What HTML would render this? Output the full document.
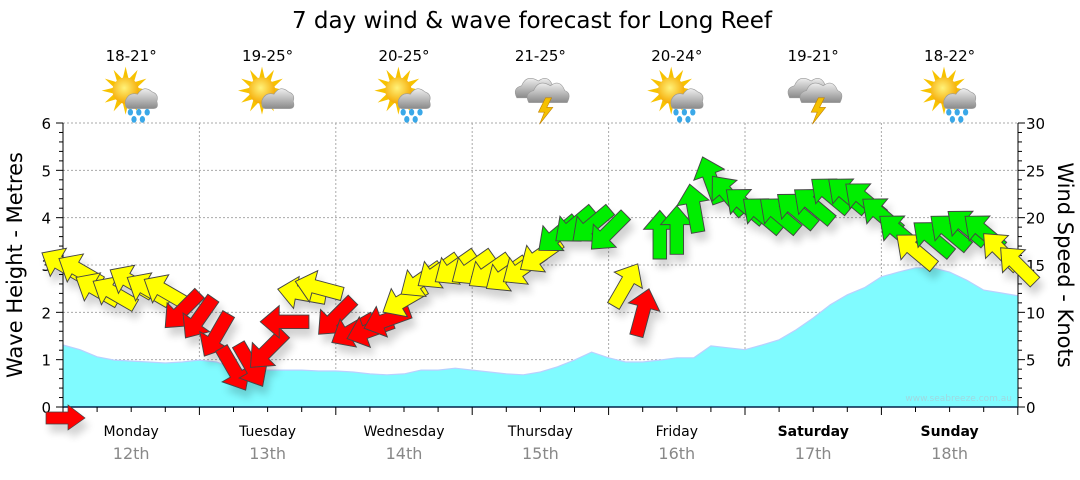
<!DOCTYPE html>
<html><head><meta charset="utf-8"><style>
body{margin:0;background:#fff;}
svg text{font-family:"DejaVu Sans","Liberation Sans",sans-serif;}
</style></head><body>
<svg id="chart" width="1080" height="475" xmlns="http://www.w3.org/2000/svg">
<defs>
<filter id="shadow" x="-50%" y="-50%" width="200%" height="200%"><feGaussianBlur in="SourceAlpha" stdDeviation="4"/><feOffset dx="4" dy="8"/><feComponentTransfer><feFuncA type="linear" slope="0.18"/></feComponentTransfer><feMerge><feMergeNode/><feMergeNode in="SourceGraphic"/></feMerge></filter>
<radialGradient id="sunG" cx="0.45" cy="0.4" r="0.6"><stop offset="0" stop-color="#fff27a"/><stop offset="1" stop-color="#f5a800"/></radialGradient>
<linearGradient id="cloudG" x1="0" y1="0" x2="0" y2="1"><stop offset="0" stop-color="#eeeeee"/><stop offset="1" stop-color="#8a8a8a"/></linearGradient>
</defs>
<text x="532" y="28" font-size="23" text-anchor="middle" fill="#000">7 day wind &amp; wave forecast for Long Reef</text>
<g id="grid"></g>
<g id="wave"></g>
<g id="axes"></g>
<g id="winds" filter="url(#shadow)"></g>
<g id="days"></g>
<g id="icons"></g>
<polygon filter="url(#shadow)" points="46,412 68,412 68,405 85,418 68,430 68,424 46,424" fill="#ff0000" stroke="#444" stroke-width="0.7"/>
<text x="1012" y="401" font-size="9" text-anchor="end" fill="#9fd8e0">www.seabreeze.com.au</text>
<text transform="translate(22,265) rotate(-90)" font-size="21" text-anchor="middle">Wave Height - Metres</text>
<text transform="translate(1058,265) rotate(90)" font-size="21" text-anchor="middle">Wind Speed - Knots</text>
</svg>
<script>
const dayNames=["Monday","Tuesday","Wednesday","Thursday","Friday","Saturday","Sunday"];
const dayDates=["12th","13th","14th","15th","16th","17th","18th"];
const temps=["18-21°","19-25°","20-25°","21-25°","20-24°","19-21°","18-22°"];
const iconTypes=["rain","cloud","rain","storm","rain","storm","rain"];
const waveHeight=[1.31,1.21,1.06,0.99,0.97,0.95,0.93,0.95,0.99,0.95,0.82,0.78,0.78,0.78,0.78,0.76,0.76,0.74,0.70,0.68,0.70,0.78,0.78,0.82,0.78,0.74,0.70,0.68,0.74,0.85,0.99,1.16,1.04,0.95,0.95,0.99,1.04,1.04,1.29,1.25,1.21,1.31,1.42,1.63,1.88,2.16,2.37,2.52,2.75,2.85,2.94,2.94,2.85,2.68,2.47,2.41,2.35];
const windSpeed=[15,14.4,12.4,12.0,13.2,12.4,12.2,10.2,9.4,7.6,4,4.4,6,9,12,12.6,9.5,8.1,8.1,9.2,11.3,13.4,14.3,14.7,14.7,14.3,14,14.7,16,18.2,19.2,19.2,18.5,12.9,10,18.2,18.7,21,24,22.4,21.3,20.3,20.3,20.8,21.3,22.4,22.4,21.9,20.3,18.5,16.5,17.8,18.5,19,18.5,16.5,15];
const windDir=[-150,-150,-150,-150,-150,-150,-150,135,125,120,60,60,135,180,-170,-165,135,150,160,160,150,145,145,145,145,145,145,145,145,140,140,140,135,-60,-75,-90,-90,-100,-110,-130,-140,-140,-140,-140,-140,-140,-140,-140,-140,-140,-140,-140,-140,-140,-140,-135,-135];
const waveTicks=[0,1,2,3,4,5,6];
const windTicks=[0,5,10,15,20,25,30];

const X0=63,X1=1018,Y0=407,Y1=123,DAYW=136.4;
const xH=h=>X0+h*DAYW/24;
const yM=m=>Y0-(Y0-Y1)*m/6;
const yK=k=>Y0-(Y0-Y1)*k/30;
const NS="http://www.w3.org/2000/svg";
function mk(t,a,p){const e=document.createElementNS(NS,t);for(const k in a)e.setAttribute(k,a[k]);(p||document.getElementById('chart')).appendChild(e);return e;}

const grid=document.getElementById('grid');
for(const m of waveTicks){ if(m===0)continue;
 const l=mk('line',{x1:X0,x2:X1,y1:yM(m),y2:yM(m),stroke:'#aaa','stroke-dasharray':'2,2'},grid);
 
 }
for(let d=1;d<7;d++){
 const l=mk('line',{x1:xH(d*24),x2:xH(d*24),y1:Y1,y2:Y0,stroke:'#aaa','stroke-dasharray':'2,2'},grid);
 
 }

let d='M'+xH(0)+','+Y0;
waveHeight.forEach((v,i)=>{d+=' L'+xH(i*3).toFixed(1)+','+yM(v).toFixed(1);});
d+=' L'+xH((waveHeight.length-1)*3)+','+Y0+' Z';
const wa=mk('path',{d:d,fill:'#80fbff',stroke:'none'},document.getElementById('wave'));


let d2='';waveHeight.forEach((v,i)=>{d2+=(i?' L':'M')+xH(i*3).toFixed(1)+','+yM(v).toFixed(1);});
const wl=mk('path',{d:d2,fill:'none',stroke:'#b8d0ff','stroke-width':1.2},document.getElementById('wave'));



const ax=document.getElementById('axes');
const la=mk('line',{x1:X0,x2:X0,y1:Y1,y2:Y0,stroke:'#000'},ax);


const ra=mk('line',{x1:X1,x2:X1,y1:Y1,y2:Y0,stroke:'#000'},ax);


const ba=mk('line',{x1:X0,x2:X1,y1:Y0,y2:Y0,stroke:'#00224a','stroke-width':1.5},ax);


for(let i=0;i<=30;i++){const y=Y0-(Y0-Y1)*i/30;mk('line',{x1:X0-(i%5?4:7),x2:X0,y1:y,y2:y,stroke:'#000'},ax);mk('line',{x1:X1,x2:X1+(i%5?4:7),y1:y,y2:y,stroke:'#000'},ax);}
waveTicks.forEach(m=>{const t=mk('text',{x:X0-12,y:yM(m)+6,'font-size':15,'text-anchor':'end'},ax);t.textContent=m;
 
 });
windTicks.forEach(k=>{const t=mk('text',{x:X1+8,y:yK(k)+6,'font-size':15},ax);t.textContent=k;
 
 });
for(let h=0;h<=168;h+=6){mk('line',{x1:xH(h),x2:xH(h),y1:Y0,y2:Y0+(h%24?5:8),stroke:'#000'},ax);}

const dg=document.getElementById('days');
dayNames.forEach((n,i)=>{const cx=xH(i*24+12);
 const t=mk('text',{x:cx,y:436,'font-size':14,'text-anchor':'middle','font-weight':i>=5?'bold':'normal'},dg);t.textContent=n;
 
 
 const t2=mk('text',{x:cx,y:459,'font-size':16,'text-anchor':'middle',fill:'#888'},dg);t2.textContent=dayDates[i];
 
 
 const t3=mk('text',{x:cx,y:61,'font-size':15,'text-anchor':'middle'},dg);t3.textContent=temps[i];
 
 
});

const ig=document.getElementById('icons');
iconTypes.forEach((tp,i)=>{const cx=xH(i*24+12);
 const g=mk('g',{transform:'translate('+(cx-2)+',93) scale(1.2)'},ig);
 
 
 if(tp!=='storm'){
  for(let r=0;r<12;r++){const a=r*Math.PI/6;mk('polygon',{points:[Math.cos(a+0.25)*10-3,Math.sin(a+0.25)*10-2,Math.cos(a)*20-3,Math.sin(a)*20-2,Math.cos(a-0.25)*10-3,Math.sin(a-0.25)*10-2].join(' '),fill:'#f7c200'},g);}
  mk('circle',{cx:-3,cy:-2,r:11,fill:'url(#sunG)'},g);
  mk('path',{d:'M0,13 Q-4,13 -3,6 Q0,-1 7,1 Q12,-7 19,-1 Q25,1 23,7 Q25,13 20,13 Z',fill:'url(#cloudG)',stroke:'#999','stroke-width':0.5},g);
 } else {
  mk('path',{d:'M-18,4 Q-22,-4 -14,-6 Q-10,-16 0,-10 Q8,-16 12,-6 Q18,-4 14,4 Z',fill:'url(#cloudG)',stroke:'#999','stroke-width':0.5},g);
  mk('path',{d:'M-8,8 Q-12,0 -4,-2 Q0,-12 10,-6 Q18,-12 22,-2 Q28,0 24,8 Z',fill:'url(#cloudG)',stroke:'#999','stroke-width':0.5},g);
  mk('polygon',{points:'6,4 0,16 5,16 1,26 12,12 7,12 11,4',fill:'#f5c000',stroke:'#c08000','stroke-width':0.5},g);
 }
 if(tp==='rain'){[[1,16],[8,16],[15,16],[4,22],[11,22]].forEach(p=>mk('ellipse',{cx:p[0],cy:p[1],rx:2.2,ry:2.8,fill:'#3aa8e8'},g));}
});

const wg=document.getElementById('winds');
const arrowPts='-18,-5 4,-5 4,-12 18,0 4,12 4,5 -18,5';
windSpeed.forEach((s,i)=>{
 const col=s<10.5?'#ff0000':(s<17.5?'#ffff00':'#00ee00');
 const a=mk('polygon',{points:arrowPts,fill:col,stroke:'#444','stroke-width':0.7,transform:'translate('+xH(i*3).toFixed(1)+','+yK(s).toFixed(1)+') rotate('+windDir[i]+') scale(1.35)'},wg);
 
 
});
</script>
</body></html>
